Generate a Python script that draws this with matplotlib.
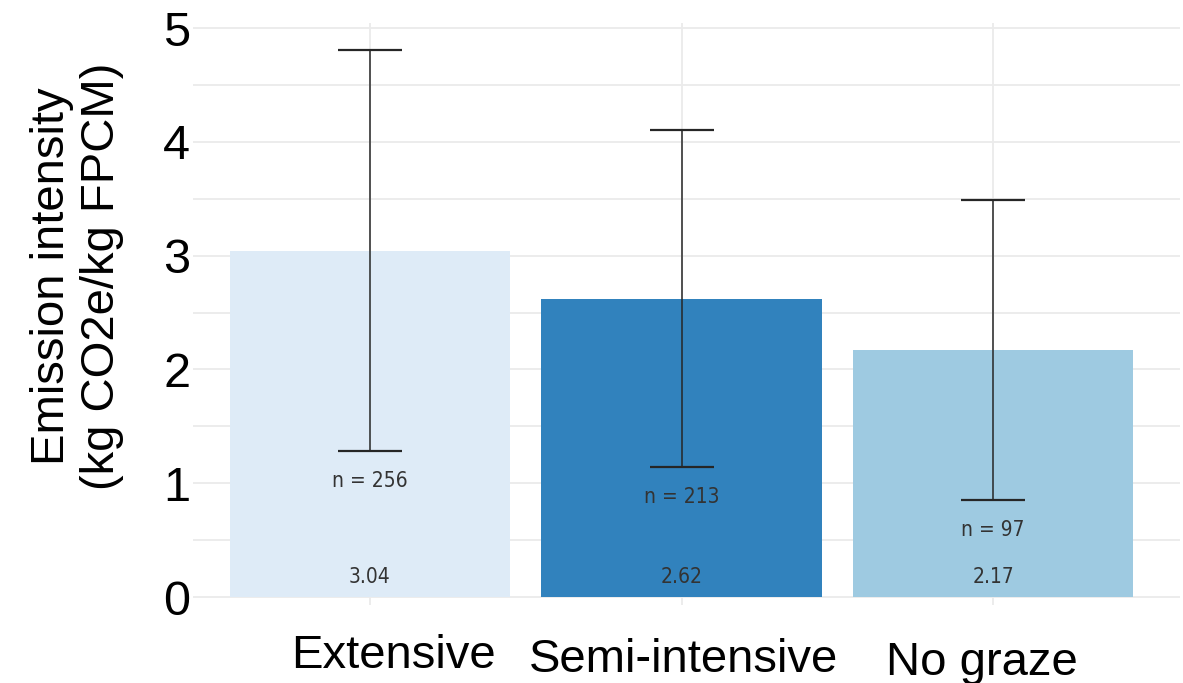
import matplotlib
matplotlib.use("Agg")
import matplotlib.pyplot as plt
import matplotlib.transforms as mtransforms
import numpy as np

systems = ["Extensive", "Semi-intensive", "No graze"]
means = [3.04, 2.62, 2.17]
upper = [4.81, 4.10, 3.49]
lower = [1.28, 1.14, 0.85]
counts = [256, 213, 97]
colors = ["#deebf7", "#3182bd", "#9ecae1"]

plt.rcParams["font.family"] = ["Liberation Sans", "DejaVu Sans"]
small_font = ["Liberation Sans Narrow", "DejaVu Sans"]

fig = plt.figure(figsize=(11.83, 6.83), dpi=100)
ax = fig.add_axes([193 / 1183, 1 - 605 / 683, 987 / 1183, 582 / 683])

x = np.arange(len(systems))
means_a = np.array(means)
yerr = [means_a - np.array(lower), np.array(upper) - means_a]

ax.bar(x, means, width=0.9, color=colors, zorder=2)
ax.errorbar(x, means, yerr=yerr, fmt="none", ecolor="#262626",
            elinewidth=1.1, capsize=23, capthick=1.6, zorder=3)

# sample sizes under the lower whisker, means near the base
for xi, lo, n, m in zip(x, lower, counts, means):
    ax.text(xi, lo - 0.26, f"n = {n}", ha="center", va="center",
            fontsize=15, color="#333333", family=small_font,
            fontstretch="condensed", zorder=4)
    ax.text(xi, 0.18, f"{m:.2f}", ha="center", va="center",
            fontsize=15, color="#333333", family=small_font,
            fontstretch="condensed", zorder=4)

ax.set_xlim(-0.568, 2.60)
ax.set_ylim(-0.07, 5.044)
ax.set_yticks(np.arange(0, 6, 1))
ax.set_yticks(np.arange(0.5, 5, 1), minor=True)
ax.set_xticks(x)
ax.set_xticklabels(systems, fontsize=34)
ax.tick_params(axis="y", labelsize=35, length=0, pad=2)
ax.tick_params(axis="x", length=0, pad=21)
ax.tick_params(which="minor", length=0)

# the category labels sit a little off their tick positions
shifts = [(23, 0), (2, -4), (-11, -7)]
for lab, (dx, dy) in zip(ax.get_xticklabels(), shifts):
    lab.set_transform(lab.get_transform() +
                      mtransforms.ScaledTranslation(dx / 100, dy / 100, fig.dpi_scale_trans))

ax.grid(True, which="both", axis="y", color="#ebebeb", linewidth=1.3, zorder=0)
ax.grid(True, which="major", axis="x", color="#ebebeb", linewidth=1.3, zorder=0)
ax.set_axisbelow(True)
for s in ax.spines.values():
    s.set_visible(False)

fig.text(77 / 1183, 1 - 276 / 683, "Emission intensity\n(kg CO2e/kg FPCM)",
         rotation=90, ha="center", va="center", multialignment="center",
         fontsize=34, linespacing=1.2)

fig.savefig("out.png", dpi=100)
